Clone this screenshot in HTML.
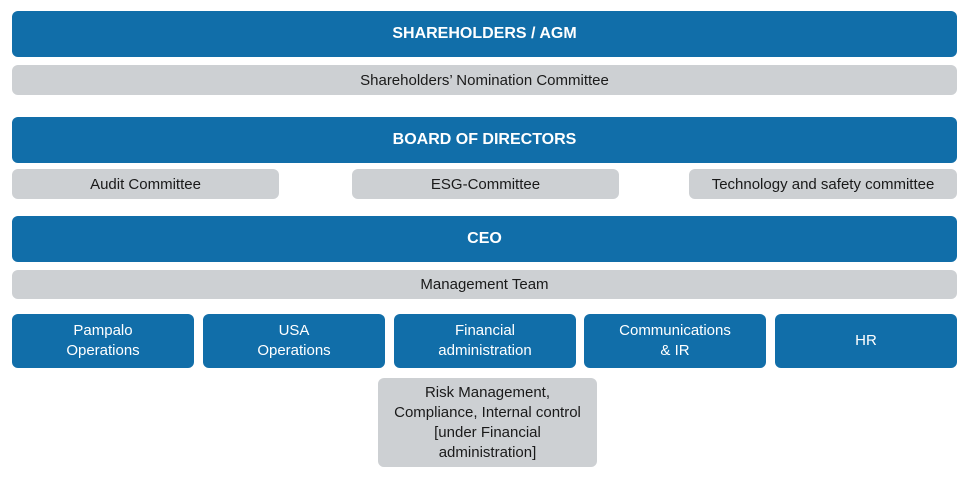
<!DOCTYPE html>
<html><head><style>
body{margin:0;width:970px;height:494px;background:#fff;position:relative;font-family:"Liberation Sans",sans-serif;}
.b{position:absolute;border-radius:6px;display:flex;align-items:center;justify-content:center;text-align:center;box-sizing:border-box;}
.bl{background:#116ea9;color:#fff;}
.g{background:#cdd0d3;color:#1a1a1a;font-size:15px;}
.h{font-weight:bold;font-size:16px;}
.s{font-size:15px;line-height:20px;}
</style></head><body>
<div class="b bl h" style="left:12px;top:11px;width:945px;height:46px">SHAREHOLDERS / AGM</div>
<div class="b g" style="left:12px;top:65px;width:945px;height:30px">Shareholders’ Nomination Committee</div>
<div class="b bl h" style="left:12px;top:117px;width:945px;height:46px">BOARD OF DIRECTORS</div>
<div class="b g" style="left:12px;top:169px;width:267px;height:30px">Audit Committee</div>
<div class="b g" style="left:352px;top:169px;width:267px;height:30px">ESG-Committee</div>
<div class="b g" style="left:689px;top:169px;width:268px;height:30px">Technology and safety committee</div>
<div class="b bl h" style="left:12px;top:216px;width:945px;height:46px">CEO</div>
<div class="b g" style="left:12px;top:270px;width:945px;height:29px">Management Team</div>
<div class="b bl s" style="left:12px;top:314px;width:182px;height:54px">Pampalo<br>Operations</div>
<div class="b bl s" style="left:203px;top:314px;width:182px;height:54px">USA<br>Operations</div>
<div class="b bl s" style="left:394px;top:314px;width:182px;height:54px">Financial<br>administration</div>
<div class="b bl s" style="left:584px;top:314px;width:182px;height:54px">Communications<br>&amp; IR</div>
<div class="b bl s" style="left:775px;top:314px;width:182px;height:54px">HR</div>
<div class="b g s" style="left:378px;top:378px;width:219px;height:89px">Risk Management,<br>Compliance, Internal control<br>[under Financial<br>administration]</div>
</body></html>
